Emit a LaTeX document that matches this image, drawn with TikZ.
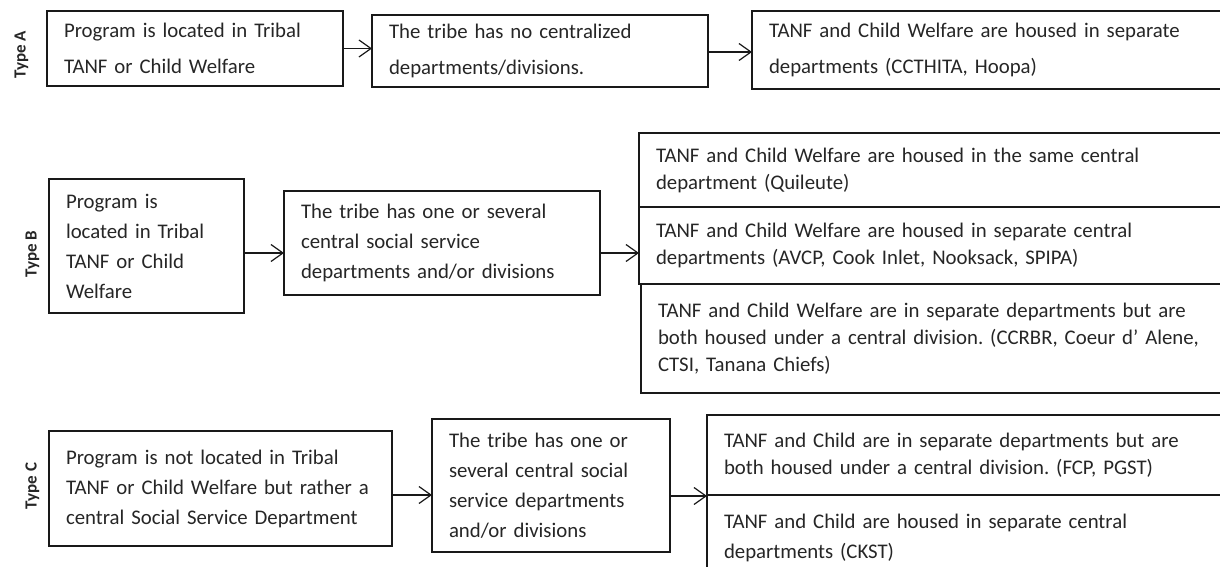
\documentclass[tikz,border=0pt]{standalone}
\usepackage{fontspec}
\setmainfont{Carlito}
\usetikzlibrary{arrows.meta}
\frenchspacing
\begin{document}
\begin{tikzpicture}[x=1pt,y=-1pt,
  box/.style={draw=black!90, line width=1.2pt, inner xsep=17pt, inner ysep=0pt, outer sep=0pt, align=left, anchor=north west, text=black!85},
  rowA/.style={font=\fontsize{20.8}{36}\selectfont},
  rowM/.style={font=\fontsize{20.8}{30}\selectfont},
  rowR/.style={font=\fontsize{20.8}{27}\selectfont},
  lab/.style={font=\fontsize{17}{20}\selectfont\bfseries, rotate=90, text=black!85, inner sep=0pt},
  arr/.style={draw=black!90, line width=1.2pt, -{Straight Barb[length=12pt,width=17pt]}}]
\useasboundingbox (0,0) rectangle (1220,567);
\fill[white] (0,0) rectangle (1220,567);
\clip (0,0) rectangle (1220,567);

% labels
\node[lab] (tA) at (21.5,55) {Type A};
\node[lab] (tB) at (32.5,254) {Type B};
\node[lab] (tC) at (32.5,486) {Type C};

% Type A
\node[box, rowA, text width=262pt, minimum height=75pt] (A1) at (47,11) {Program is located in Tribal\\TANF or Child Welfare};
\node[box, rowA, text width=302pt, minimum height=72pt] (A2) at (372,15) {The tribe has no centralized\\departments/divisions.};
\node[box, rowA, text width=446pt, minimum height=78pt] (A3) at (752,11) {TANF and Child Welfare are housed in separate\\departments (CCTHITA, Hoopa)};

% Type B
\node[box, rowM, text width=161pt, minimum height=134pt] (B1) at (49,179) {Program is\\located in Tribal\\TANF or Child\\Welfare};
\node[box, rowM, text width=282pt, minimum height=104pt] (B2) at (284,191) {The tribe has one or several\\central social service\\departments and/or divisions};
\node[box, rowR, text width=566pt, minimum height=74pt] (B3a) at (639,133) {TANF and Child Welfare are housed in the same central\\department (Quileute)};
\node[box, rowR, text width=566pt, minimum height=77pt] (B3b) at (639,207) {TANF and Child Welfare are housed in separate central\\departments (AVCP, Cook Inlet, Nooksack, SPIPA)};
\node[box, rowR, text width=566pt, minimum height=109pt] (B3c) at (641,284) {TANF and Child Welfare are in separate departments but are\\both housed under a central division. (CCRBR, Coeur d’ Alene,\\CTSI, Tanana Chiefs)};

% Type C
\node[box, rowM, text width=309pt, minimum height=115pt] (C1) at (49,431) {Program is not located in Tribal\\TANF or Child Welfare but rather a\\central Social Service Department};
\node[box, rowM, text width=204pt, minimum height=133pt] (C2) at (432,419) {The tribe has one or\\several central social\\service departments\\and/or divisions};
\node[box, rowR, text width=566pt, minimum height=80pt] (C3a) at (707,415) {TANF and Child are in separate departments but are\\both housed under a central division. (FCP, PGST)};
\node[box, rowM, text width=566pt, minimum height=86pt] (C3b) at (707,495) {TANF and Child are housed in separate central\\departments (CKST)};

% connectors
\draw[arr] (A1.east) -- (A1.east -| A2.west);
\draw[arr] ([yshift=-1pt]A2.east) -- ([yshift=-1pt]A2.east -| A3.west);
\draw[arr] ([yshift=-7pt]B1.east) -- ([yshift=-7pt]B1.east -| B2.west);
\draw[arr] ([yshift=-10pt]B2.east) -- ([yshift=-10pt]B2.east -| B3b.west);
\draw[arr] ([yshift=-6.5pt]C1.east) -- ([yshift=-6.5pt]C1.east -| C2.west);
\draw[arr] ([yshift=-10.5pt]C2.east) -- ([yshift=-10.5pt]C2.east -| C3b.north west);
\end{tikzpicture}
\end{document}
